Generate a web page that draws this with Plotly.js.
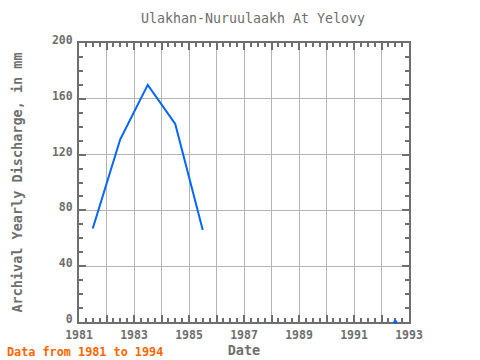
<!DOCTYPE html>
<html><head><meta charset="utf-8">
<script src="https://cdn.plot.ly/plotly-3.0.1.min.js"></script>
<style>body{margin:0;padding:0;}#plot{width:480px;height:360px;}</style>
</head><body><div id="plot"></div>
<script>
var years = [1981.5, 1982.5, 1983.5, 1984.5, 1985.5];
var discharge = [67, 131, 170, 142, 66];
var loneYears = [1992.5];
var loneValues = [0];
var xTickVals = [1981,1982,1983,1984,1985,1986,1987,1988,1989,1990,1991,1992,1993];
var xTickText = ['1981','','1983','','1985','','1987','','1989','','1991','','1993'];

var font = "DejaVu Sans Mono, monospace";
var frame = '#6e6e6e';
var bold = {family: font, size: 11.5, color: '#6e6e6e', weight: 'bold'};
var traces = [
  {x: years, y: discharge, mode: 'lines', line: {color: '#0066ff', width: 2}, hoverinfo: 'none'},
  {x: loneYears, y: loneValues, mode: 'markers', marker: {color: '#0066ff', size: 4}, hoverinfo: 'none', cliponaxis: false}
];
var layout = {
  width: 480, height: 360,
  margin: {l: 79, r: 71, t: 43, b: 38},
  paper_bgcolor: '#ffffff', plot_bgcolor: '#ffffff',
  showlegend: false,
  font: {family: font, color: '#6e6e6e', size: 11},
  title: {text: 'Ulakhan-Nuruulaakh At Yelovy', x: 0.527, xanchor: 'center', y: 0.95, yanchor: 'middle', font: {family: font, size: 13.3, color: '#6e6e6e'}},
  xaxis: {
    range: [1981, 1993], tickmode: 'array', tickvals: xTickVals, ticktext: xTickText,
    ticks: 'inside', ticklen: 7, tickwidth: 2, tickcolor: frame,
    showline: true, linecolor: frame, linewidth: 2, mirror: 'allticks',
    showgrid: true, gridcolor: '#b4b4b4', gridwidth: 1, zeroline: false,
    layer: 'below traces',
    minor: {dtick: 0.25, ticks: 'inside', ticklen: 4, tickwidth: 2, tickcolor: frame, showgrid: false},
    tickfont: bold, ticklabelstandoff: 1,
    title: {text: 'Date', font: {family: font, size: 13.5, color: '#6e6e6e', weight: 'bold'}, standoff: 4}
  },
  yaxis: {
    range: [0, 200], dtick: 40, tick0: 0,
    ticks: 'inside', ticklen: 7, tickwidth: 2, tickcolor: frame,
    showline: true, linecolor: frame, linewidth: 2, mirror: 'allticks',
    showgrid: true, gridcolor: '#b4b4b4', gridwidth: 1, zeroline: false,
    minor: {dtick: 10, ticks: 'inside', ticklen: 4, tickwidth: 2, tickcolor: frame, showgrid: false},
    tickfont: bold, ticklabelstandoff: 2, ticklabelshift: -3,
    title: {text: 'Archival Yearly Discharge, in mm', font: {family: font, size: 13.5, color: '#6e6e6e', weight: 'bold'}, standoff: 26}
  },
  annotations: [
    {text: 'Data from 1981 to 1994', xref: 'paper', yref: 'paper', x: -74/330, y: -30/279, xanchor: 'left', yanchor: 'middle', showarrow: false, font: {family: font, size: 11.8, color: '#ff6600', weight: 'bold'}}
  ]
};
Plotly.newPlot('plot', traces, layout, {staticPlot: true, displayModeBar: false});
</script></body></html>
